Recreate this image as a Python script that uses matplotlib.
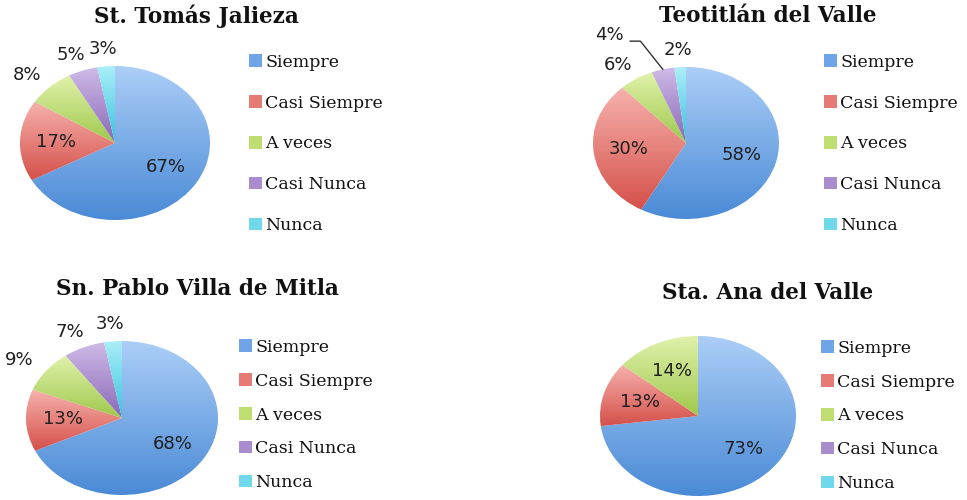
import numpy as np
import matplotlib
matplotlib.use("Agg")
import matplotlib.pyplot as plt
from matplotlib.colors import LinearSegmentedColormap
from matplotlib.patches import Patch

W, H = 967, 500

categorias = ["Siempre", "Casi Siempre", "A veces", "Casi Nunca", "Nunca"]

titulos = ["St. Tomás Jalieza", "Teotitlán del Valle",
           "Sn. Pablo Villa de Mitla", "Sta. Ana del Valle"]

tomas = [67, 17, 8, 5, 3]
teotitlan = [58, 30, 6, 4, 2]
mitla = [68, 13, 9, 7, 3]
santa_ana = [73, 13, 14, 0, 0]
valores = [tomas, teotitlan, mitla, santa_ana]

# degradado claro arriba -> oscuro abajo, estilo Excel
claros = ["#abcef7", "#f7b2ad", "#e0f2ab", "#cfbbe7", "#abeef8"]
oscuros = ["#4a8ad6", "#d5504a", "#9fc84c", "#8a68b8", "#38c2de"]
medios = ["#6fa5e6", "#e67a74", "#bede72", "#a98ccd", "#6fd8ea"]

# centro y radios (x, y) de cada pastel en pixeles
geo = [(115, 143, 95, 77), (686, 143, 93, 76),
       (122, 418, 96, 77), (698, 416, 98, 80)]
pos_titulo = [(196, 16), (768, 16), (197, 289), (768, 293)]
pos_leyenda = [(249, 144, 41), (824, 144, 41), (239, 415, 34), (821, 416, 34)]

fig = plt.figure(figsize=(W / 100, H / 100), dpi=100)


def caja(cx, cy, rx, ry):
    return [(cx - rx) / W, 1 - (cy + ry) / H, 2 * rx / W, 2 * ry / H]


for k in range(4):
    cx, cy, rx, ry = geo[k]
    ax = fig.add_axes(caja(cx, cy, rx, ry))
    vals = valores[k]
    wedges, _ = ax.pie(vals, startangle=90, counterclock=False,
                       radius=1, center=(0, 0), frame=False)
    ax.set_aspect("auto")
    ax.set_xlim(-1, 1)
    ax.set_ylim(-1, 1)
    ax.axis("off")

    for i, w in enumerate(wedges):
        if vals[i] == 0:
            w.set_visible(False)
            continue
        ext = w.get_path().get_extents()
        cmap = LinearSegmentedColormap.from_list("g", [oscuros[i], claros[i]])
        grad = np.linspace(0, 1, 256).reshape(-1, 1)
        im = ax.imshow(grad, cmap=cmap, origin="lower", aspect="auto",
                       extent=(ext.x0, ext.x1, ext.y0, ext.y1), zorder=1)
        im.set_clip_path(w)
        w.set_facecolor("none")
        w.set_edgecolor("none")

        # etiquetas de porcentaje: dentro si la rebanada es grande
        ang = np.deg2rad((w.theta1 + w.theta2) / 2)
        if vals[i] >= 10:
            tx, ty = 0.62 * np.cos(ang), 0.62 * np.sin(ang)
        else:
            tx, ty = 1.36 * np.cos(ang), 1.22 * np.sin(ang)
        if k == 1 and i == 3:
            # 4% desplazado con linea guia
            tx, ty = -0.82, 1.42
            ax.plot([-0.60, -0.49, -0.25], [1.34, 1.34, 0.97],
                    color="#333333", lw=1, clip_on=False, zorder=5)
        ax.text(tx, ty, f"{vals[i]}%", fontsize=13, color="#1f1f1f",
                ha="center", va="center", clip_on=False, zorder=5)

    tx, ty = pos_titulo[k]
    fig.text(tx / W, 1 - ty / H, titulos[k], fontsize=15.5, fontweight="bold",
             family="DejaVu Serif", ha="center", va="center", color="#111111")

    lx, ly, paso = pos_leyenda[k]
    handles = [Patch(facecolor=medios[i], edgecolor="none") for i in range(5)]
    fig.legend(handles, categorias, loc="center left",
               bbox_to_anchor=(lx / W, 1 - ly / H), frameon=False,
               prop={"family": "DejaVu Serif", "size": 12.5},
               handlelength=0.75, handleheight=0.7, handletextpad=0.2,
               labelspacing=(paso - 17) / 17.4, borderpad=0, borderaxespad=0,
               labelcolor="#111111")

fig.savefig("out.png", dpi=100, facecolor="white")
